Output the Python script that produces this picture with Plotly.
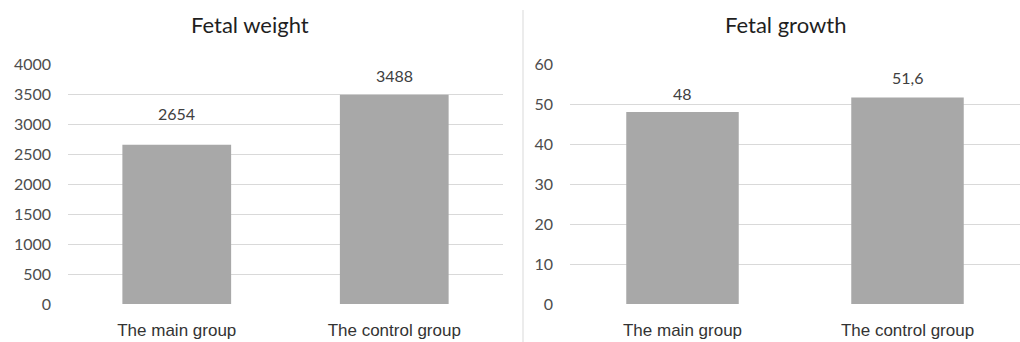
import plotly.graph_objects as go

groups = ["The main group", "The control group"]
weight_values = [2654, 3488]
growth_values = [48, 51.6]
weight_ticks = [0, 500, 1000, 1500, 2000, 2500, 3000, 3500, 4000]
growth_ticks = [0, 10, 20, 30, 40, 50, 60]

# vertical gap (px) between each bar top and its value label
weight_label_gap = [31, 19]
growth_label_gap = [19, 20]


def comma_label(v):
    return f"{v:g}".replace(".", ",")


BAR = "#a8a8a8"
GRID = "#d9d9d9"
TICK = "#4d4d4d"
LABEL_FONT = dict(family="Lato, Open Sans, sans-serif", size=16, color="#404040")
TITLE_FONT = dict(family="Lato, Open Sans, sans-serif", size=22, color="#1f1f1f")

fig = go.Figure()
fig.add_trace(go.Bar(
    x=groups, y=weight_values, xaxis="x", yaxis="y",
    marker=dict(color=BAR, line=dict(width=0)),
))
fig.add_trace(go.Bar(
    x=groups, y=growth_values, xaxis="x2", yaxis="y2",
    marker=dict(color=BAR, line=dict(width=0)),
))

annotations = []
for g, v, gap in zip(groups, weight_values, weight_label_gap):
    annotations.append(dict(x=g, y=v, xref="x", yref="y", text=comma_label(v),
                            showarrow=False, yshift=gap, yanchor="middle", font=LABEL_FONT))
for g, v, gap in zip(groups, growth_values, growth_label_gap):
    annotations.append(dict(x=g, y=v, xref="x2", yref="y2", text=comma_label(v),
                            showarrow=False, yshift=gap, yanchor="middle", font=LABEL_FONT))
annotations += [
    dict(text="Fetal weight", x=250 / 1020, y=1 - 25 / 342, xref="paper", yref="paper",
         showarrow=False, xanchor="center", yanchor="middle", font=TITLE_FONT),
    dict(text="Fetal growth", x=785 / 1020, y=1 - 25 / 342, xref="paper", yref="paper",
         showarrow=False, xanchor="center", yanchor="middle", font=TITLE_FONT),
]

ydom = [38 / 342, 278 / 342]
xaxis_common = dict(
    showgrid=False, zeroline=False, showline=False, ticks="", automargin=False,
    tickfont=dict(family="Liberation Sans, Arial, sans-serif", size=17, color="#333333"),
    ticklabelstandoff=14, fixedrange=True,
)
yaxis_common = dict(
    showgrid=True, gridcolor=GRID, gridwidth=1, zeroline=False, showline=False,
    ticks="", automargin=False,
    tickfont=dict(family="Lato, Open Sans, sans-serif", size=16, color=TICK),
    ticklabelstandoff=16, fixedrange=True,
)

fig.update_layout(
    width=1020, height=342,
    margin=dict(l=0, r=0, t=0, b=0),
    paper_bgcolor="white", plot_bgcolor="white",
    showlegend=False, bargap=0.5,
    xaxis=dict(domain=[68 / 1020, 503 / 1020], anchor="y", **xaxis_common),
    yaxis=dict(domain=ydom, anchor="x", range=[0, 4000], tickvals=weight_ticks, **yaxis_common),
    xaxis2=dict(domain=[570 / 1020, 1.0], anchor="y2", **xaxis_common),
    yaxis2=dict(domain=ydom, anchor="x2", range=[0, 60], tickvals=growth_ticks, **yaxis_common),
    annotations=annotations,
    shapes=[
        dict(type="line", xref="paper", yref="paper", x0=523 / 1020, x1=523 / 1020,
             y0=0, y1=1 - 10 / 342, line=dict(color="#d9d9d9", width=1)),
    ],
)

fig.write_html("out.html")
